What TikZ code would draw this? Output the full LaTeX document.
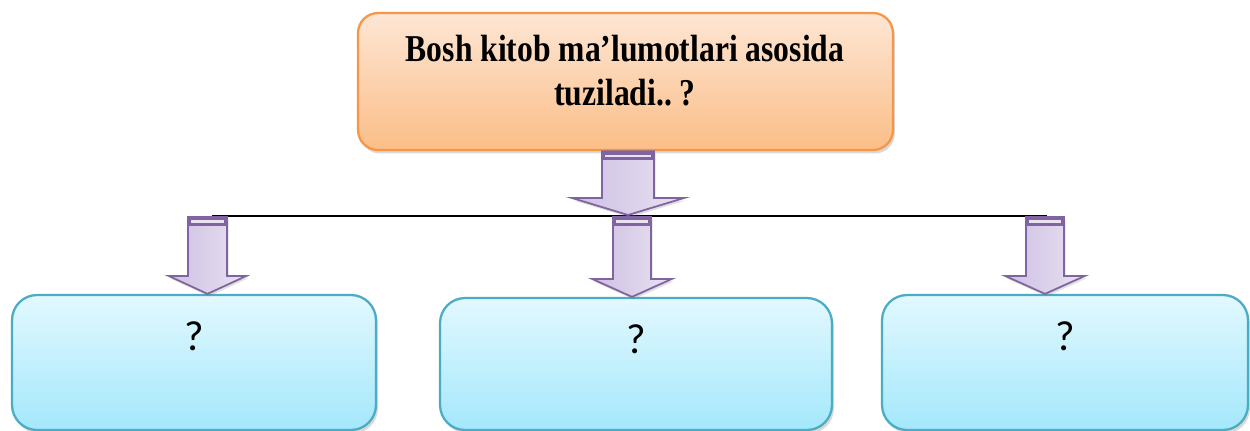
\documentclass[tikz,border=0pt]{standalone}
\usepackage{fontspec}
\setmainfont{Liberation Serif}
\newfontfamily\qfont{Carlito}
\usepackage{tikz}
\usepackage{xcolor}
\usetikzlibrary{calc}
\usetikzlibrary{shadows}
\usetikzlibrary{positioning}
\frenchspacing

\definecolor{orangeline}{HTML}{F79646}
\definecolor{orangetop}{HTML}{FDE6D4}
\definecolor{orangebot}{HTML}{FBBE88}
\definecolor{tealline}{HTML}{4BACC6}
\definecolor{tealtop}{HTML}{E2F8FE}
\definecolor{tealbot}{HTML}{A4E8FC}
\definecolor{violetline}{HTML}{8064A2}
\definecolor{violetleft}{HTML}{CDBFE3}
\definecolor{violetright}{HTML}{E8E2F1}

% block arrow: start, end, shaft half width, head half width, head length
\newcommand{\blockarrow}[5]{%
  \draw[barrow] ($(#1)+(-#3,0)$) -- ($(#1|-#2)+(-#3,-#5)$) -- ($(#1|-#2)+(-#4,-#5)$)
    -- (#1|-#2) -- ($(#1|-#2)+(#4,-#5)$) -- ($(#1|-#2)+(#3,-#5)$) -- ($(#1)+(#3,0)$) -- cycle;
  \fill[violetline] ($(#1)+(-#3,0)$) rectangle ($(#1)+(#3,9)$);
  \draw[violetright, line width=1.2pt] ($(#1)+(-#3+3,4.5)$) -- ($(#1)+(#3-3,4.5)$);
}

\begin{document}
\begin{tikzpicture}[x=0.02cm, y=-0.02cm,
    boxshadow/.style={drop shadow={opacity=0.3, shadow xshift=0.04cm, shadow yshift=-0.07cm}},
    topbox/.style={draw=orangeline, line width=1.3pt, rounded corners=0.4cm, top color=orangetop, bottom color=orangebot, minimum width=10.7cm, minimum height=2.74cm, inner sep=0pt, boxshadow},
    answerbox/.style={draw=tealline, line width=1.3pt, rounded corners=0.5cm, top color=tealtop, bottom color=tealbot, minimum height=2.7cm, inner sep=0pt, boxshadow},
    titletext/.style={inner sep=0pt, font=\fontsize{18}{21}\selectfont\bfseries},
    qmark/.style={inner sep=0pt, font=\qfont\fontsize{24}{28}\selectfont},
    barrow/.style={draw=violetline, line width=1pt, left color=violetleft, right color=violetright, drop shadow={opacity=0.25, shadow xshift=0.03cm, shadow yshift=-0.05cm}}]
  \useasboundingbox (0,0) rectangle (1250,430);

  % Top box with the question
  \node[topbox] (top) at (625.5,81.5) {};
  \node[titletext] (title) at (625,75) {\scalebox{1}[1.2]{\begin{tabular}{@{}c@{}}Bosh kitob ma’lumotlari asosida\\tuziladi.. ?\end{tabular}}};

  % Three answer boxes
  \node[answerbox, minimum width=7.28cm] (boxA) at (194,362.5) {};
  \node[answerbox, minimum width=7.84cm, minimum height=2.64cm] (boxB) at (636,364) {};
  \node[answerbox, minimum width=7.32cm] (boxC) at (1065,362.5) {};
  \node[qmark, below=0.54cm of boxA.north] (qA) {?};
  \node[qmark, below=0.54cm of boxB.north] (qB) {?};
  \node[qmark, below=0.54cm of boxC.north] (qC) {?};

  % Split line
  \coordinate (split) at (628,215);
  \coordinate (atop) at (top.south -| split);
  \coordinate (jA) at (207.5,217);
  \coordinate (jB) at (632,217);
  \coordinate (jC) at (1045,217);
  \draw[line width=1pt] ($(jA)+(4,-1)$) -- ($(jC)+(2,-1)$);

  % Block arrows
  \blockarrow{atop}{split}{26}{56}{17}
  \blockarrow{jA}{boxA.north}{19.5}{39}{18}
  \blockarrow{jB}{boxB.north}{19}{40}{18}
  \blockarrow{jC}{boxC.north}{19}{40}{18}
\end{tikzpicture}
\end{document}
